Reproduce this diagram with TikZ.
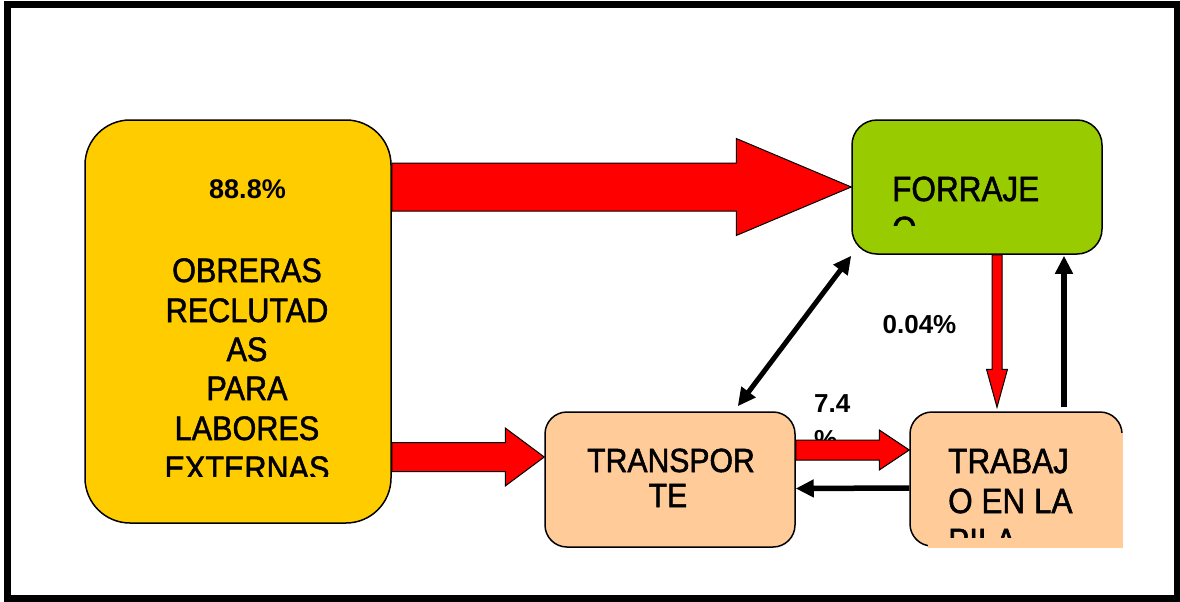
\documentclass[tikz,border=0pt]{standalone}
\usepackage{fontspec}
\setmainfont{Liberation Sans}
\newfontfamily\handfont{Liberation Sans}[FakeStretch=0.9, FakeBold=1.5]
\usetikzlibrary{calc,arrows.meta}
\definecolor{yelfill}{HTML}{FFCC00}
\definecolor{grnfill}{HTML}{99CC00}
\definecolor{peachfill}{HTML}{FFCC99}
\definecolor{bred}{HTML}{FF0000}
\tikzset{
  box/.style={draw=black, line width=1.5pt, inner sep=0pt},
  blockarrow/.style={fill=bred, draw=black, line width=1pt, line join=miter},
  blackarrow/.style={draw=black, line width=5.5pt, -{Triangle[length=18pt,width=17pt]}},
  dblarrow/.style={draw=black, line width=5pt, {Triangle[length=18pt,width=17pt]}-{Triangle[length=18pt,width=17pt]}},
  txt/.style={font=\handfont\fontsize{34}{40}\selectfont, inner sep=0pt, anchor=base},
  pct/.style={font=\bfseries\fontsize{27}{32}\selectfont, inner sep=0pt, anchor=base},
}
% #1 start, #2 tip, #3 shaft half width, #4 head half width, #5 head length
\newcommand\myblockarrow[5]{%
  \path (#1) coordinate (ba-s) (#2) coordinate (ba-t);
  \path ($(ba-t)!#5!(ba-s)$) coordinate (ba-b);
  \filldraw[blockarrow] ($(ba-s)!#3!90:(ba-t)$) -- ($(ba-b)!#3!-90:(ba-s)$) -- ($(ba-b)!#4!-90:(ba-s)$) -- (ba-t)
    -- ($(ba-b)!#4!90:(ba-s)$) -- ($(ba-b)!#3!90:(ba-s)$) -- ($(ba-s)!#3!-90:(ba-t)$) -- cycle;}
\begin{document}
\begin{tikzpicture}[x=1pt,y=-1pt]
\useasboundingbox (0,0) rectangle (1180,602);
\draw[line width=7pt] (7,5) rectangle (1177,598);

% boxes
\node[box, fill=yelfill, rounded corners=45pt, minimum width=306pt, minimum height=403pt] (yel) at (238,321.5) {};
\node[box, fill=grnfill, rounded corners=25pt, minimum width=250pt, minimum height=134pt] (g) at (977,187) {};
\node[box, fill=peachfill, rounded corners=22pt, minimum width=250pt, minimum height=135pt] (tr) at (670,479.5) {};
\node[box, fill=peachfill, rounded corners=22pt, minimum width=212pt, minimum height=134pt] (tb) at (1016,479) {};
\fill[peachfill] (928,433) rectangle (1123,547.5);

% yellow texts
\node[pct] (p88) at (247.5,198) {88.8\%};
\begin{scope}
  \clip (86,121) rectangle (390,476);
  \node[txt] (y1) at (247,282) {OBRERAS};
  \node[txt] (y2) at (247,322) {RECLUTAD};
  \node[txt] (y3) at (247,361) {AS};
  \node[txt] (y4) at (247,400) {PARA};
  \node[txt] (y5) at (247,440) {LABORES};
  \node[txt] (y6) at (247,480) {EXTERNAS};
\end{scope}

% green texts
\begin{scope}
  \clip (853,121) rectangle (1101,225);
  \node[txt, font=\handfont\fontsize{35}{40}\selectfont, anchor=base west] (g1) at (892,201) {FORRAJE};
  \node[txt, font=\handfont\fontsize{35}{40}\selectfont, anchor=base west] (g2) at (892,241) {O};
\end{scope}

% transporte
\node[txt, font=\handfont\fontsize{33.5}{36}\selectfont] (t1) at (671,472) {TRANSPOR};
\node[txt, font=\handfont\fontsize{33.5}{36}\selectfont] (t2) at (668,507) {TE};

% trabajo
\begin{scope}
  \clip (911,413) rectangle (1122,537);
  \node[txt, font=\handfont\fontsize{35}{40}\selectfont, anchor=base west] (b1) at (948,473) {TRABAJ};
  \node[txt, font=\handfont\fontsize{35}{40}\selectfont, anchor=base west] (b2) at (948,513) {O EN LA};
  \node[txt, font=\handfont\fontsize{35}{40}\selectfont, anchor=base west] (b3) at (948,553) {PILA};
\end{scope}

% labels
\node[pct, font=\bfseries\fontsize{26}{30}\selectfont] (p004) at (919.5,333) {0.04\%};
\node[pct, font=\bfseries\fontsize{26}{30}\selectfont, anchor=base west] (p74) at (814,412) {7.4};
\node[pct, font=\bfseries\fontsize{26}{30}\selectfont, anchor=base west] (p74b) at (814,448) {\%};

% red block arrows
\myblockarrow{yel.east |- g.west}{g.west}{24pt}{48.5pt}{115pt}
\myblockarrow{$(yel.east |- tr.west)+(0,-22.5)$}{$(tr.west)+(0,-22.5)$}{14.5pt}{29pt}{39pt}
\myblockarrow{$(tr.east |- tb.west)+(0,-29)$}{$(tb.west)+(0,-29)$}{10pt}{20pt}{30pt}
\coordinate (xred) at (997,0);
\coordinate (xup) at (1064,0);
\myblockarrow{g.south -| xred}{$(tb.north -| xred)+(0,-4)$}{5pt}{10.5pt}{38pt}

% black arrows
\draw[blackarrow] ($(tb.west)+(0,9)$) -- ($(tr.east)+(0,9)$);
\draw[blackarrow] ($(tb.north -| xup)+(0,-4)$) -- ($(g.south -| xup)+(0,1)$);
\draw[dblarrow] ($(tr.north east)+(-58,-5)$) -- ($(g.south west)+(0,1)$);
\end{tikzpicture}
\end{document}
